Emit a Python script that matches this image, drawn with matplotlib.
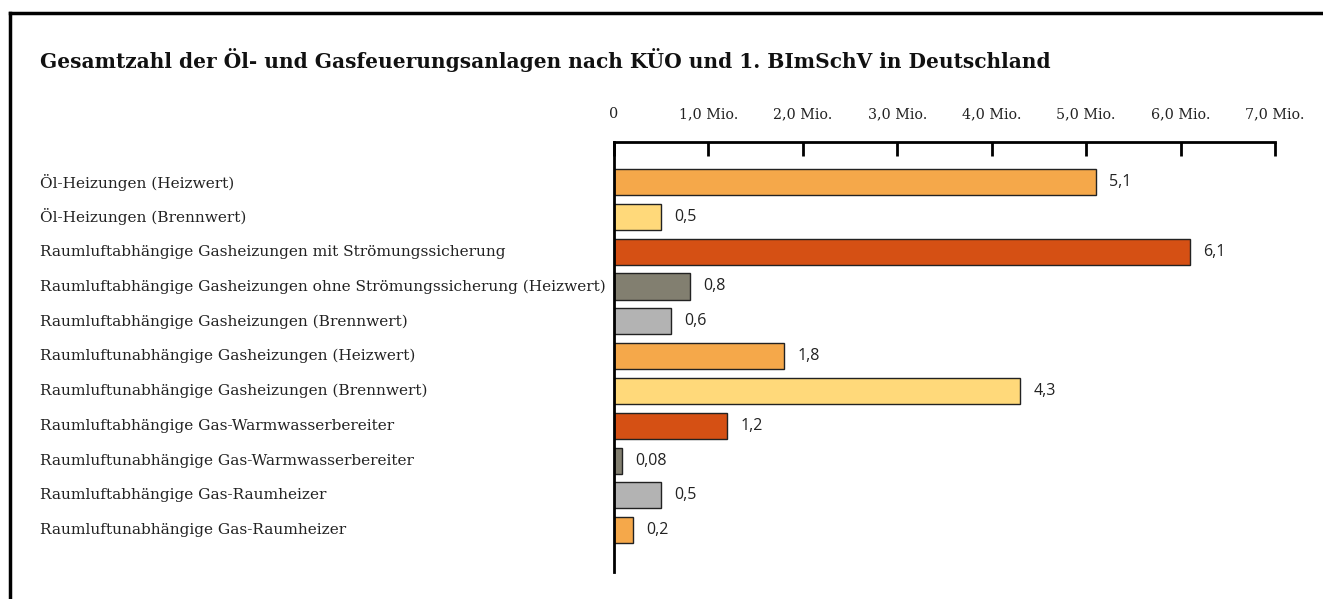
import matplotlib
matplotlib.use("Agg")
import matplotlib.pyplot as plt
from matplotlib.lines import Line2D
import matplotlib.transforms as mtransforms

categories = [
    "Öl-Heizungen (Heizwert)",
    "Öl-Heizungen (Brennwert)",
    "Raumluftabhängige Gasheizungen mit Strömungssicherung",
    "Raumluftabhängige Gasheizungen ohne Strömungssicherung (Heizwert)",
    "Raumluftabhängige Gasheizungen (Brennwert)",
    "Raumluftunabhängige Gasheizungen (Heizwert)",
    "Raumluftunabhängige Gasheizungen (Brennwert)",
    "Raumluftabhängige Gas-Warmwasserbereiter",
    "Raumluftunabhängige Gas-Warmwasserbereiter",
    "Raumluftabhängige Gas-Raumheizer",
    "Raumluftunabhängige Gas-Raumheizer",
]
values = [5.1, 0.5, 6.1, 0.8, 0.6, 1.8, 4.3, 1.2, 0.08, 0.5, 0.2]
colors = ["#F5A84A", "#FFD97A", "#D55014", "#827F70", "#B3B3B3",
          "#F5A84A", "#FFD97A", "#D55014", "#827F70", "#B3B3B3", "#F5A84A"]
xticks = [0, 1, 2, 3, 4, 5, 6, 7]
xticklabels = ["0", "1,0 Mio.", "2,0 Mio.", "3,0 Mio.", "4,0 Mio.",
               "5,0 Mio.", "6,0 Mio.", "7,0 Mio."]
title = "Gesamtzahl der Öl- und Gasfeuerungsanlagen nach KÜO und 1. BImSchV in Deutschland"

serif = "DejaVu Serif"
sans = "Open Sans"

fig = plt.figure(figsize=(13.23, 5.99), dpi=100)
ax = fig.add_axes([0.4641, 0.045, 0.9637 - 0.4641, 0.763 - 0.045])

ypos = list(range(len(values)))
ax.barh(ypos, values, height=0.75, color=colors, edgecolor="#222222", linewidth=1)

ax.set_xlim(0, 7)
ax.set_ylim(len(values) - 1 + 1.2, -1.15)

ax.xaxis.tick_top()
ax.set_xticks(xticks)
ax.set_xticklabels(xticklabels, fontfamily=serif, fontsize=10.3, color="#222222")
ax.tick_params(axis="x", direction="in", length=10, width=2, pad=15, colors="black",
               labelcolor="#222222")
ax.set_yticks([])
for s in ["right", "bottom"]:
    ax.spines[s].set_visible(False)
for s in ["top", "left"]:
    ax.spines[s].set_linewidth(2)

trans = mtransforms.blended_transform_factory(fig.transFigure, ax.transData)
for y, cat, v in zip(ypos, categories, values):
    ax.text(40 / 1323, y, cat, transform=trans, ha="left", va="center",
            fontfamily=serif, fontsize=11.1, color="#222222")
    ax.text(v + 0.14, y, str(v).replace(".", ","), ha="left", va="center",
            fontfamily=sans, fontsize=11.5, color="#222222")

fig.text(40 / 1323, 1 - 60 / 599, title, ha="left", va="center",
         fontfamily=serif, fontweight="bold", fontsize=14.5, color="#111111")

# frame at top and left
fig.add_artist(Line2D([10 / 1323, 1], [1 - 13 / 599, 1 - 13 / 599],
                      transform=fig.transFigure, color="black", linewidth=2.5))
fig.add_artist(Line2D([10 / 1323, 10 / 1323], [0, 1 - 13 / 599],
                      transform=fig.transFigure, color="black", linewidth=2.5))

fig.savefig("out.png", dpi=100)
